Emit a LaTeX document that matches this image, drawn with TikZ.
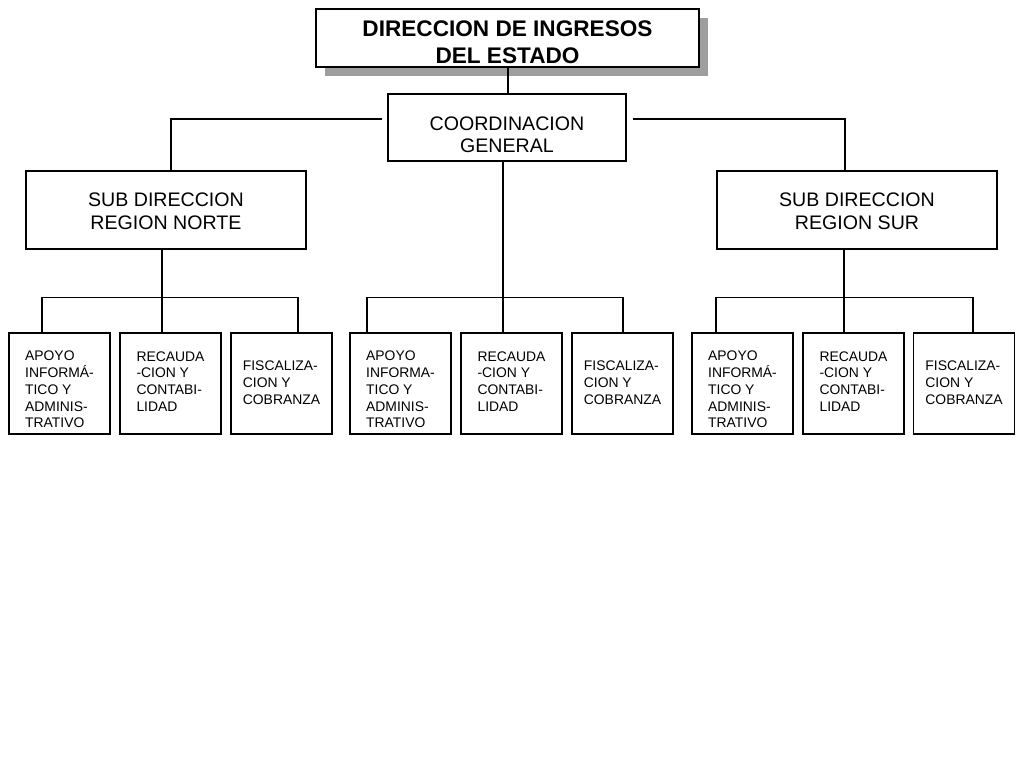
\documentclass[tikz,border=0pt]{standalone}
\usepackage{fontspec}
\setmainfont{Liberation Sans}
\usetikzlibrary{shadows}
\begin{document}
\begin{tikzpicture}[x=1pt,y=-1pt,
 bigbox/.style={draw, line width=1.2pt, inner sep=0pt, align=center, fill=white},
 bigtext/.style={font=\fontsize{19.6}{23}\selectfont, align=center},
 smallbox/.style={draw, line width=1.2pt, minimum width=101pt, minimum height=101pt, inner sep=0pt},
 stext/.style={align=left, inner sep=0pt, font=\fontsize{13.9}{16.8}\selectfont},
 link/.style={line width=1.2pt}]
\path[use as bounding box, fill=white] (0,0) rectangle (1024,768);

\node[bigbox, minimum width=383pt, minimum height=58pt,
  drop shadow={shadow xshift=9pt, shadow yshift=-9pt, fill=black!38, opacity=1},
  label={[font=\bfseries\fontsize{22.6}{27}\selectfont, align=center, yshift=-4.5pt]center:DIRECCION DE INGRESOS\\DEL ESTADO}] (top) at (507.5,38) {};

\node[bigbox, minimum width=238pt, minimum height=67pt,
  label={[bigtext, font=\fontsize{19.6}{22}\selectfont, yshift=-7.5pt]center:COORDINACION\\GENERAL}] (coord) at (507,127.5) {};

\node[bigbox, minimum width=280pt, minimum height=78pt,
  label={[bigtext, yshift=-1pt]center:SUB DIRECCION\\REGION NORTE}] (subN) at (166,210) {};
\node[bigbox, minimum width=280pt, minimum height=78pt,
  label={[bigtext, yshift=-1pt]center:SUB DIRECCION\\REGION SUR}] (subS) at (857,210) {};

\node[smallbox, label={[stext, yshift=-6pt]center:APOYO\\INFORMÁ-\\TICO Y\\ADMINIS-\\TRATIVO}] (a1) at (59.5,383.5) {};
\node[smallbox, label={[stext, yshift=2pt]center:RECAUDA\\-CION Y\\CONTABI-\\LIDAD}] (b1) at (170.5,383.5) {};
\node[smallbox, label={[stext, yshift=1pt]center:FISCALIZA-\\CION Y\\COBRANZA}] (c1) at (281.5,383.5) {};

\node[smallbox, label={[stext, yshift=-6pt]center:APOYO\\INFORMA-\\TICO Y\\ADMINIS-\\TRATIVO}] (a2) at (400.5,383.5) {};
\node[smallbox, label={[stext, yshift=2pt]center:RECAUDA\\-CION Y\\CONTABI-\\LIDAD}] (b2) at (511.5,383.5) {};
\node[smallbox, label={[stext, yshift=1pt]center:FISCALIZA-\\CION Y\\COBRANZA}] (c2) at (622.5,383.5) {};

\node[smallbox, label={[stext, yshift=-6pt]center:APOYO\\INFORMÁ-\\TICO Y\\ADMINIS-\\TRATIVO}] (a3) at (742.5,383.5) {};
\node[smallbox, label={[stext, yshift=2pt]center:RECAUDA\\-CION Y\\CONTABI-\\LIDAD}] (b3) at (853.5,383.5) {};
\node[smallbox, label={[stext, yshift=1pt]center:FISCALIZA-\\CION Y\\COBRANZA}] (c3) at (964,383.5) {};

\draw[link] ([xshift=0.5pt]top.south) -- ([xshift=0.5pt]top.south |- coord.north);
\draw[link] ([shift={(-5,-8.5)}]coord.west) -| ([xshift=5pt]subN.north);
\draw[link] ([shift={(6,-8.5)}]coord.east) -| ([xshift=-12pt]subS.north);

\draw[link] ([xshift=-4pt]subN.south) -- ([xshift=-8.5pt]b1.north);
\draw[link] ([xshift=-17.5pt]a1.north) -- ++(0,-35) -| ([xshift=16.5pt]c1.north);

\draw[link] ([xshift=-4pt]coord.south) -- ([xshift=-8.5pt]b2.north);
\draw[link] ([xshift=-33.5pt]a2.north) -- ++(0,-35) -| ([xshift=0.5pt]c2.north);

\draw[link] ([xshift=-13pt]subS.south) -- ([xshift=-9.5pt]b3.north);
\draw[link] ([xshift=-26.5pt]a3.north) -- ++(0,-35) -| ([xshift=9pt]c3.north);
\end{tikzpicture}
\end{document}
